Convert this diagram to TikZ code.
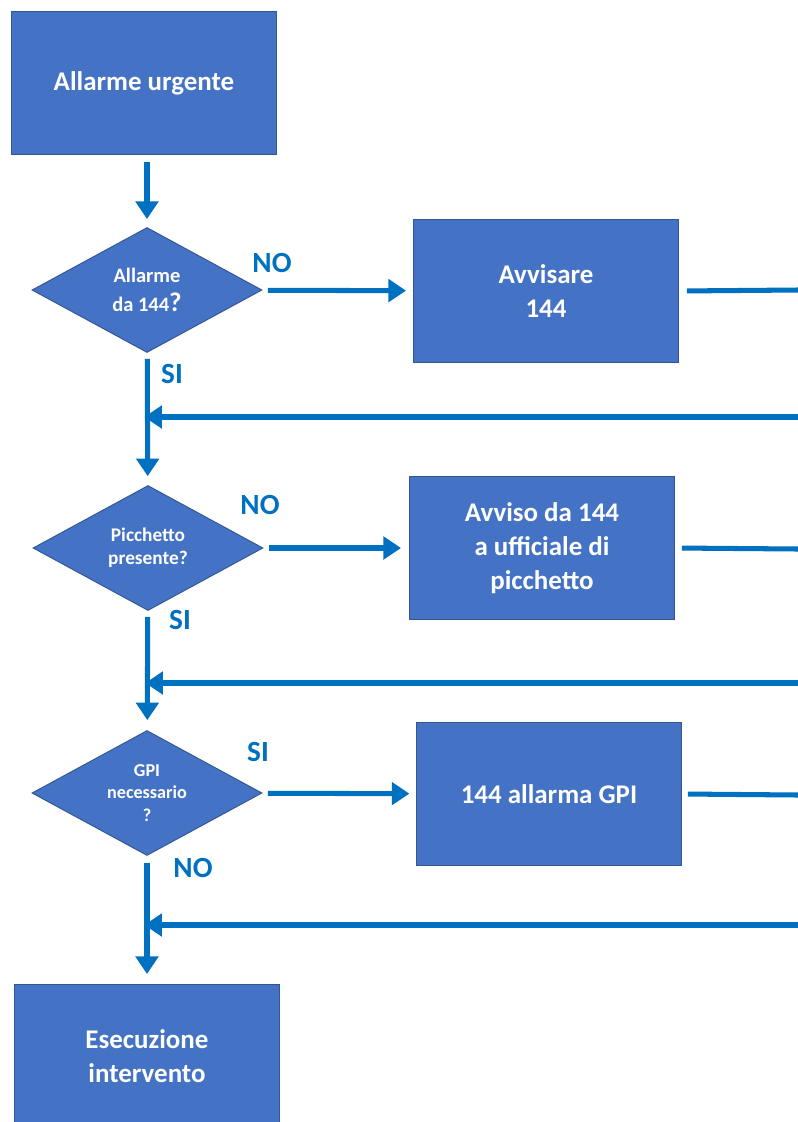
\documentclass[tikz,border=0pt]{standalone}
\usepackage{fontspec}
\setmainfont{Carlito}
\usetikzlibrary{shapes.geometric, arrows.meta}

\definecolor{boxblue}{HTML}{4472C4}
\definecolor{flowblue}{HTML}{0070C0}

\begin{document}
\begin{tikzpicture}[x=0.3mm, y=-0.3mm,
    block/.style = {rectangle,
    fill = boxblue,
    draw = boxblue!75!black,
    line width = 0.8pt,
    minimum width = 7.95cm,
    minimum height = 4.29cm,
    text = white, align = center,
    font = \fontsize{23}{29}\selectfont\bfseries},
    choice/.style = {diamond, aspect = 1.84, inner sep = 0pt,
    fill = boxblue,
    draw = boxblue!75!black,
    line width = 0.8pt,
    minimum width = 6.9cm,
    minimum height = 3.75cm,
    text = white, align = center},
    wire/.style = {draw = flowblue, line width = 4.3pt},
    flow/.style = {wire, -{Triangle[length=15pt, width=19pt]}},
    answer/.style = {text = flowblue, font = \fontsize{25}{30}\selectfont\bfseries}]

    \clip (0,0) rectangle (798,1122);

    % main column
    \node[block] (b1) at (144,83) {Allarme urgente};

    \node[choice, font = \fontsize{17.5}{25}\selectfont\bfseries] (d1) at (147,290)
    {Allarme\\da 144{\fontsize{23}{25}\selectfont ?}};

    \node[choice, font = \fontsize{16.5}{20}\selectfont\bfseries] (d2) at (148,548)
    {Picchetto\\presente?};

    \node[choice, font = \fontsize{15.5}{19}\selectfont\bfseries] (d3) at (147,793)
    {GPI\\necessario\\?};

    \node[block] (b5) at (147,1056) {Esecuzione\\intervento};

    % side boxes
    \node[block] (b2) at (546,291) {Avvisare\\144};
    \node[block] (b3) at (542,548) {Avviso da 144\\a ufficiale di\\picchetto};
    \node[block] (b4) at (549,794) {144 allarma GPI};

    % answers
    \node[answer] (no1) at (272,263) {NO};
    \node[answer] (si1) at (172,374) {SI};
    \node[answer] (no2) at (260,505) {NO};
    \node[answer] (si2) at (180,620) {SI};
    \node[answer] (si3) at (258,752) {SI};
    \node[answer] (no3) at (193,868) {NO};

    % free ends at the right edge
    \coordinate (e1) at (798,290);
    \coordinate (e2) at (798,549);
    \coordinate (e3) at (798,795);
    \coordinate (r1) at (798,417);
    \coordinate (r2) at (798,683);
    \coordinate (r3) at (798,925);

    \draw[flow, shorten <=2mm, shorten >=2.4mm] (b1.south -| d1.north) to (d1.north);
    \draw[flow, shorten <=1.8mm, shorten >=2.7mm] (d1) to (d2);
    \draw[flow, shorten <=1.8mm, shorten >=3mm] (d2) to (d3);
    \draw[flow, shorten <=2mm, shorten >=3mm] (d3) to (b5);

    \draw[flow, shorten <=1.8mm, shorten >=2.1mm] (d1) to (b2);
    \draw[flow, shorten <=1.8mm, shorten >=2.4mm] (d2) to (b3);
    \draw[flow, shorten <=1.8mm, shorten >=2mm] (d3) to (b4);

    \draw[wire, shorten <=2.4mm] (b2.east) to (e1);
    \draw[wire, shorten <=2.1mm] (b3.east) to (e2);
    \draw[wire, shorten <=1.8mm] (b4.east) to (e3);

    \draw[flow, shorten >=-0.8mm] (r1) to (r1 -| d1.south);
    \draw[flow, shorten >=-0.8mm] (r2) to (r2 -| d2.south);
    \draw[flow, shorten >=-0.8mm] (r3) to (r3 -| d3.south);
\end{tikzpicture}
\end{document}
